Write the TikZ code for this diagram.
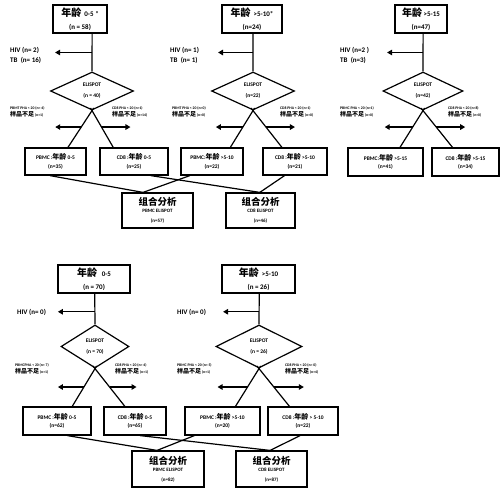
\documentclass[tikz,border=0pt]{standalone}
\usepackage{fontspec}
\setmainfont{Carlito}
\newfontfamily\cjk{Noto Sans CJK SC}
\usetikzlibrary{shapes.geometric,arrows.meta,calc}
\newcommand\zh[2]{{\cjk\bfseries\fontsize{#1}{#1}\selectfont #2}}
\newcommand\fsz[2]{\fontsize{#1}{#2}\selectfont}
\tikzset{
  box/.style={draw, line width=1.2pt, inner sep=0pt, align=center},
  title/.style={box, font=\bfseries\fsz{7}{12.5}},
  sub/.style={box, font=\bfseries\fsz{5.5}{8.5}},
  comb/.style={box, font=\bfseries\fsz{5}{7}},
  dia/.style={draw, diamond, line width=1.2pt, inner sep=0pt, align=center, font=\bfseries\fsz{5.5}{11}},
  hiv/.style={inner sep=0pt, align=left, anchor=west, font=\bfseries\fsz{7}{10}},
  qlbl/.style={inner sep=0pt, align=left, anchor=west, font=\bfseries\fsz{3.8}{7}},
  ln/.style={line width=1.2pt},
  arr/.style={line width=1.2pt, -{Triangle[length=5pt,width=5.5pt]}}
}
\begin{document}
\begin{tikzpicture}[x=1pt,y=-1pt]
\fill[white] (0,0) rectangle (500,503);
\useasboundingbox (0,0) rectangle (500,503);

% ================= Group 1 =================
\node[title, minimum width=54pt, minimum height=28pt] (g1t) at (80,19) {\zh{10}{年龄}\ \ 0-5 *\\(n = 58)};
\node[dia, minimum width=83pt, minimum height=38pt] (g1d) at (92,91) {ELISPOT\\(n = 40)};
\coordinate (g1s) at ($(g1t.south west)!0.72!(g1t.south east)$);
\draw[ln] (g1s) -- (g1d.north);
\coordinate (g1h) at ($(g1s)!0.5!(g1d.north)$);
\draw[arr] (g1h) -- ++(-37,0);
\node[hiv] (g1hiv) at (10,55) {HIV (n= 2)\\TB\ \ (n= 16)};
\node[qlbl] (g1ql) at (10,112) {PBMT PHA < 20 (n= 4)\\\zh{6}{样品不足} (n=1)};
\node[qlbl] (g1qr) at (112,112) {CD8 PHA < 20 (n=1)\\\zh{6}{样品不足} (n=14)};
\node[sub, minimum width=61pt, minimum height=27pt] (g1pb) at (55.5,161.5) {PBMC :\zh{7}{年龄} 0-5\\(n=35)};
\node[sub, minimum width=68pt, minimum height=27pt] (g1cd) at (134,161.5) {CD8 :\zh{7}{年龄} 0-5\\(n=25)};
\coordinate (g1a) at ($(g1pb.north west)!0.70!(g1pb.north east)$);
\coordinate (g1b) at ($(g1cd.north west)!0.20!(g1cd.north east)$);
\draw[ln] ($(g1a)!1.07!(g1d.south)$) -- (g1a);
\draw[ln] ($(g1b)!1.07!(g1d.south)$) -- (g1b);
\draw[arr] ($(g1d.south)!0.447!(g1a)$) -- ++(-26,0);
\draw[arr] ($(g1d.south)!0.447!(g1b)$) -- ++(29,0);

% ================= Group 2 =================
\node[title, minimum width=60pt, minimum height=28pt] (g2t) at (252,19) {\zh{10}{年龄}\ \ >5-10*\\(n=24)};
\node[dia, minimum width=83pt, minimum height=38pt] (g2d) at (253,91) {ELISPOT\\(n=22)};
\coordinate (g2s) at ($(g2t.south west)!0.517!(g2t.south east)$);
\draw[ln] (g2s) -- (g2d.north);
\coordinate (g2h) at ($(g2s)!0.5!(g2d.north)$);
\draw[arr] (g2h) -- ++(-35,0);
\node[hiv] (g2hiv) at (170,55) {HIV (n= 1)\\TB\ \ (n= 1)};
\node[qlbl] (g2ql) at (172,112) {PBMT PHA < 20 (n=0)\\\zh{6}{样品不足} (n=0)};
\node[qlbl] (g2qr) at (280,112) {CD8 PHA < 20 (n=1)\\\zh{6}{样品不足} (n=0)};
\node[sub, minimum width=62pt, minimum height=27pt] (g2pb) at (212,161.5) {PBMC:\zh{7}{年龄} >5-10\\(n=22)};
\node[sub, minimum width=64pt, minimum height=27pt] (g2cd) at (295,161.5) {CD8 :\zh{7}{年龄} >5-10\\(n=21)};
\coordinate (g2a) at ($(g2pb.north west)!0.79!(g2pb.north east)$);
\coordinate (g2b) at ($(g2cd.north west)!0.30!(g2cd.north east)$);
\draw[ln] ($(g2a)!1.07!(g2d.south)$) -- (g2a);
\draw[ln] ($(g2b)!1.07!(g2d.south)$) -- (g2b);
\draw[arr] ($(g2d.south)!0.447!(g2a)$) -- ++(-27,0);
\draw[arr] ($(g2d.south)!0.447!(g2b)$) -- ++(29,0);

% ================= Group 3 =================
\node[title, minimum width=52pt, minimum height=28pt] (g3t) at (421,19) {\zh{10}{年龄}\ >5-15\\(n=47)};
\node[dia, minimum width=80pt, minimum height=38pt] (g3d) at (423,91) {ELISPOT\\(n=42)};
\coordinate (g3s) at ($(g3t.south west)!0.54!(g3t.south east)$);
\draw[ln] (g3s) -- (g3d.north);
\coordinate (g3h) at ($(g3s)!0.5!(g3d.north)$);
\draw[arr] (g3h) -- ++(-36,0);
\node[hiv] (g3hiv) at (340,55) {HIV (n=2 )\\TB\ \ (n=3)};
\node[qlbl] (g3ql) at (340,112) {PBMC PHA < 20 (n=1)\\\zh{6}{样品不足} (n=0)};
\node[qlbl] (g3qr) at (448,112) {CD8 PHA < 20 (n=8)\\\zh{6}{样品不足} (n=0)};
\node[sub, minimum width=75pt, minimum height=28pt] (g3pb) at (385.5,162) {PBMC:\zh{7}{年龄} >5-15\\(n=41)};
\node[sub, minimum width=67pt, minimum height=28pt] (g3cd) at (465.5,162) {CD8 :\zh{7}{年龄} >5-15\\(n=34)};
\coordinate (g3a) at ($(g3pb.north west)!0.69!(g3pb.north east)$);
\coordinate (g3b) at ($(g3cd.north west)!0.31!(g3cd.north east)$);
\draw[ln] ($(g3a)!1.07!(g3d.south)$) -- (g3a);
\draw[ln] ($(g3b)!1.07!(g3d.south)$) -- (g3b);
\draw[arr] ($(g3d.south)!0.447!(g3a)$) -- ++(-28,0);
\draw[arr] ($(g3d.south)!0.447!(g3b)$) -- ++(29,0);

% ================= Combined (top) =================
\node[comb, minimum width=71pt, minimum height=35pt] (c1p) at (157.5,210.5) {\zh{9.5}{组合分析}\\PBMC ELISPOT\\[3pt](n=57)};
\node[comb, minimum width=69pt, minimum height=35pt] (c1c) at (260.5,210.5) {\zh{9.5}{组合分析}\\CD8 ELISPOT\\[3pt](n=46)};
\draw[ln] ($(g1pb.south west)!0.41!(g1pb.south east)$) -- ($(c1p.north west)!0.30!(c1p.north east)$);
\draw[ln] ($(g2pb.south west)!0.15!(g2pb.south east)$) -- ($(c1p.north west)!0.30!(c1p.north east)$);
\draw[ln] ($(g1cd.south west)!0.74!(g1cd.south east)$) -- ($(c1c.north west)!0.49!(c1c.north east)$);
\draw[ln] ($(g2cd.south west)!0.34!(g2cd.south east)$) -- ($(c1c.north west)!0.49!(c1c.north east)$);

% ================= Group 4 =================
\node[title, minimum width=72pt, minimum height=28pt] (g4t) at (94,279) {\zh{10}{年龄}\ \ \ 0-5\\(n = 70)};
\node[dia, minimum width=68pt, minimum height=43pt] (g4d) at (95,346.5) {ELISPOT\\(n = 70)};
\coordinate (g4s) at ($(g4t.south west)!0.51!(g4t.south east)$);
\draw[ln] (g4s) -- (g4d.north);
\coordinate (g4h) at ($(g4s)!0.59!(g4d.north)$);
\draw[arr] (g4h) -- ++(-37,0);
\node[hiv] (g4hiv) at (17,312) {HIV (n= 0)};
\node[qlbl] (g4ql) at (15,369) {PBMCPHA < 20 (n= 7)\\\zh{6}{样品不足} (n=1)};
\node[qlbl] (g4qr) at (115,369) {CD8 PHA < 20 (n= 4)\\\zh{6}{样品不足} (n=1)};
\node[sub, minimum width=68pt, minimum height=28pt] (g4pb) at (57,421) {PBMC :\zh{7}{年龄} 0-5\\(n=62)};
\node[sub, minimum width=62pt, minimum height=28pt] (g4cd) at (135,421) {CD8 :\zh{7}{年龄} 0-5\\(n=65)};
\coordinate (g4a) at ($(g4pb.north west)!0.72!(g4pb.north east)$);
\coordinate (g4b) at ($(g4cd.north west)!0.34!(g4cd.north east)$);
\draw[ln] ($(g4a)!1.07!(g4d.south)$) -- (g4a);
\draw[ln] ($(g4b)!1.07!(g4d.south)$) -- (g4b);
\draw[arr] ($(g4d.south)!0.487!(g4a)$) -- ++(-26,0);
\draw[arr] ($(g4d.south)!0.487!(g4b)$) -- ++(27,0);

% ================= Group 5 =================
\node[title, minimum width=73pt, minimum height=28pt] (g5t) at (258.5,279) {\zh{10}{年龄}\ \ >5-10\\(n = 26)};
\node[dia, minimum width=86pt, minimum height=43pt] (g5d) at (259,346.5) {ELISPOT\\(n = 26)};
\coordinate (g5s) at ($(g5t.south west)!0.51!(g5t.south east)$);
\draw[ln] (g5s) -- (g5d.north);
\coordinate (g5h) at ($(g5s)!0.59!(g5d.north)$);
\draw[arr] (g5h) -- ++(-36,0);
\node[hiv] (g5hiv) at (177,312) {HIV (n= 0)};
\node[qlbl] (g5ql) at (177,369) {PBMC PHA < 20 (n= 5)\\\zh{6}{样品不足} (n=1)};
\node[qlbl] (g5qr) at (285,369) {CD8 PHA < 20 (n= 0)\\\zh{6}{样品不足} (n=4)};
\node[sub, minimum width=75pt, minimum height=28pt] (g5pb) at (222.5,421) {PBMC :\zh{7}{年龄} >5-10\\(n=20)};
\node[sub, minimum width=70pt, minimum height=28pt] (g5cd) at (303,421) {CD8 :\zh{7}{年龄} > 5-10\\(n=22)};
\coordinate (g5a) at ($(g5pb.north west)!0.67!(g5pb.north east)$);
\coordinate (g5b) at ($(g5cd.north west)!0.31!(g5cd.north east)$);
\draw[ln] ($(g5a)!1.07!(g5d.south)$) -- (g5a);
\draw[ln] ($(g5b)!1.07!(g5d.south)$) -- (g5b);
\draw[arr] ($(g5d.south)!0.487!(g5a)$) -- ++(-30,0);
\draw[arr] ($(g5d.south)!0.487!(g5b)$) -- ++(30,0);

% ================= Combined (bottom) =================
\node[comb, minimum width=72pt, minimum height=36pt] (c2p) at (168,469) {\zh{9.5}{组合分析}\\PBMC ELISPOT\\[3pt](n=82)};
\node[comb, minimum width=71pt, minimum height=36pt] (c2c) at (271.5,469) {\zh{9.5}{组合分析}\\CD8 ELISPOT\\[3pt](n=87)};
\draw[ln] ($(g4pb.south west)!0.65!(g4pb.south east)$) -- ($(c2p.north west)!0.35!(c2p.north east)$);
\draw[ln] ($(g5pb.south west)!0.13!(g5pb.south east)$) -- ($(c2p.north west)!0.35!(c2p.north east)$);
\draw[ln] ($(g4cd.south west)!0.58!(g4cd.south east)$) -- ($(c2c.north west)!0.48!(c2c.north east)$);
\draw[ln] ($(g5cd.south west)!0.46!(g5cd.south east)$) -- ($(c2c.north west)!0.48!(c2c.north east)$);
\end{tikzpicture}
\end{document}
